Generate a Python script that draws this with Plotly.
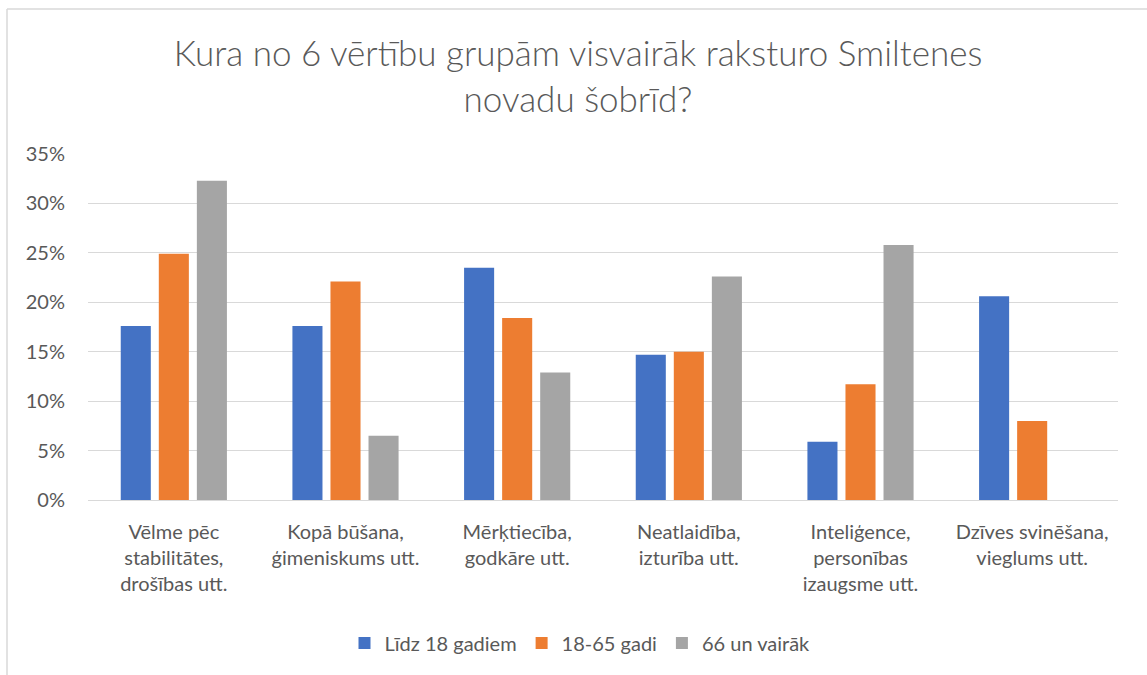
import plotly.graph_objects as go

categories = [
    "Vēlme pēc<br>stabilitātes,<br>drošības utt.",
    "Kopā būšana,<br>ģimeniskums utt.",
    "Mērķtiecība,<br>godkāre utt.",
    "Neatlaidība,<br>izturība utt.",
    "Inteliģence,<br>personības<br>izaugsme utt.",
    "Dzīves svinēšana,<br>vieglums utt.",
]
series_names = ["Līdz 18 gadiem", "18-65 gadi", "66 un vairāk"]
vals_lidz18 = [0.176, 0.176, 0.235, 0.147, 0.059, 0.206]
vals_18_65 = [0.249, 0.221, 0.184, 0.150, 0.117, 0.080]
vals_66 = [0.323, 0.065, 0.129, 0.226, 0.258, 0.0]
colors = ["#4472C4", "#ED7D31", "#A5A5A5"]
y_ticks = [0, 0.05, 0.10, 0.15, 0.20, 0.25, 0.30, 0.35]

FONT = "Lato"
TXT = "#595959"

fig = go.Figure()
for name, vals, col in zip(series_names, [vals_lidz18, vals_18_65, vals_66], colors):
    fig.add_trace(go.Bar(x=categories, y=vals, name=name, marker=dict(color=col, line=dict(width=0))))

W, H = 1147, 675
L, R, T, B = 88, 29, 154, 175
pw, ph = W - L - R, H - T - B

def px_x(p):
    return (p - L) / pw

def px_y(p):
    return (H - B - p) / ph

fig.update_layout(
    width=W, height=H,
    margin=dict(l=L, r=R, t=T, b=B, autoexpand=False),
    paper_bgcolor="white", plot_bgcolor="white",
    barmode="group", bargap=0.335, bargroupgap=0.21,
    font=dict(family=FONT, color=TXT, size=20),
    title=dict(
        text="Kura no 6 vērtību grupām visvairāk raksturo Smiltenes<br>novadu šobrīd?",
        x=px_x(578), xanchor="center", xref="paper",
        y=1 - 66 / H, yanchor="middle", yref="container",
        font=dict(family=FONT, size=35, color=TXT, weight=300),
    ),
    xaxis=dict(showgrid=False, showline=False, ticks="", tickfont=dict(size=20, color=TXT),
               tickangle=0, fixedrange=True, ticklabelstandoff=18),
    yaxis=dict(range=[0, 0.35], tickvals=y_ticks, tickformat=".0%", showgrid=True,
               gridcolor="#D9D9D9", gridwidth=1.3, zeroline=True, zerolinecolor="#D9D9D9",
               zerolinewidth=1.3, showline=False, ticks="", ticklabelstandoff=22,
               tickfont=dict(size=20, color=TXT)),
    legend=dict(orientation="h", x=px_x(580), xanchor="center", xref="paper",
                y=px_y(643), yanchor="middle", yref="paper",
                font=dict(size=20, color=TXT), itemwidth=30, traceorder="normal"),
    shapes=[
        dict(type="line", xref="paper", yref="paper", x0=px_x(7), x1=px_x(1147), y0=px_y(9), y1=px_y(9),
             line=dict(color="#D9D9D9", width=1.5)),
        dict(type="line", xref="paper", yref="paper", x0=px_x(7), x1=px_x(7), y0=px_y(9), y1=px_y(675),
             line=dict(color="#D9D9D9", width=1.5)),
    ],
)

fig.write_html("out.html", config={"displayModeBar": False},
               post_script="document.body.style.margin='0px';")
